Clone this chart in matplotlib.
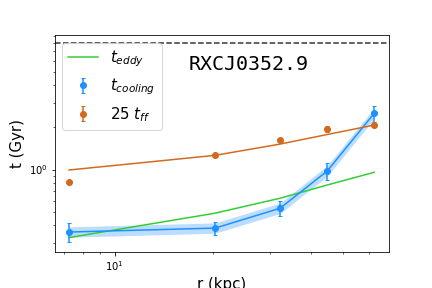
import numpy as np
import matplotlib
matplotlib.use('Agg')
import matplotlib.pyplot as plt

# radii (kpc)
r = [7.24, 20.3, 32.1, 44.8, 62.4]

# cooling time (Gyr) with errors and shaded band
t_cool = [0.357, 0.381, 0.528, 0.976, 2.52]
t_cool_err = [0.055, 0.04, 0.063, 0.13, 0.33]
t_cool_lo = [0.328, 0.350, 0.485, 0.895, 2.31]
t_cool_hi = [0.389, 0.415, 0.575, 1.065, 2.75]

# 25 x free-fall time: points and smooth model
t_ff25 = [0.810, 1.263, 1.617, 1.955, 2.07]
t_ff25_err = [0.02, 0.03, 0.04, 0.1, 0.05]
t_ff25_model = [0.992, 1.263, 1.52, 1.78, 2.08]

# eddy turnover time
t_eddy = [0.326, 0.487, 0.623, 0.775, 0.955]

t_hubble = 8.0

blue = '#1e90ff'
orange = '#d2691e'
green = '#32cd32'

fig = plt.figure(figsize=(6, 4), dpi=72)
ax = fig.add_axes([0.127, 0.125, 0.773, 0.753])

ax.plot(r, t_eddy, color=green, lw=1.5, label=r'$t_{eddy}$')
ax.fill_between(r, t_cool_lo, t_cool_hi, color=blue, alpha=0.3, lw=0)
ax.plot(r, t_cool, color=blue, lw=1.5)
ax.errorbar(r, t_cool, yerr=t_cool_err, fmt='o', color=blue, ms=6,
            capsize=2, label=r'$t_{cooling}$')
ax.plot(r, t_ff25_model, color=orange, lw=1.5)
ax.errorbar(r, t_ff25, yerr=t_ff25_err, fmt='o', color=orange, ms=6,
            capsize=2, label=r'25 $t_{ff}$')
ax.axhline(t_hubble, color='k', ls='--', lw=1.5, alpha=0.8)

ax.set_xscale('log')
ax.set_yscale('log')
ax.set_xlim(6.55, 69.2)
ax.set_ylim(0.257, 9.15)

ax.text(0.58, 0.866, 'RXCJ0352.9', transform=ax.transAxes, ha='center',
        va='center', fontsize=20, family='DejaVu Sans Mono')
ax.set_xlabel('r (kpc)', fontsize=15)
ax.set_ylabel('t (Gyr)', fontsize=15)
ax.tick_params(labelsize=10)
ax.legend(loc='upper left', fontsize=15)

fig.savefig('out.png', dpi=72)
